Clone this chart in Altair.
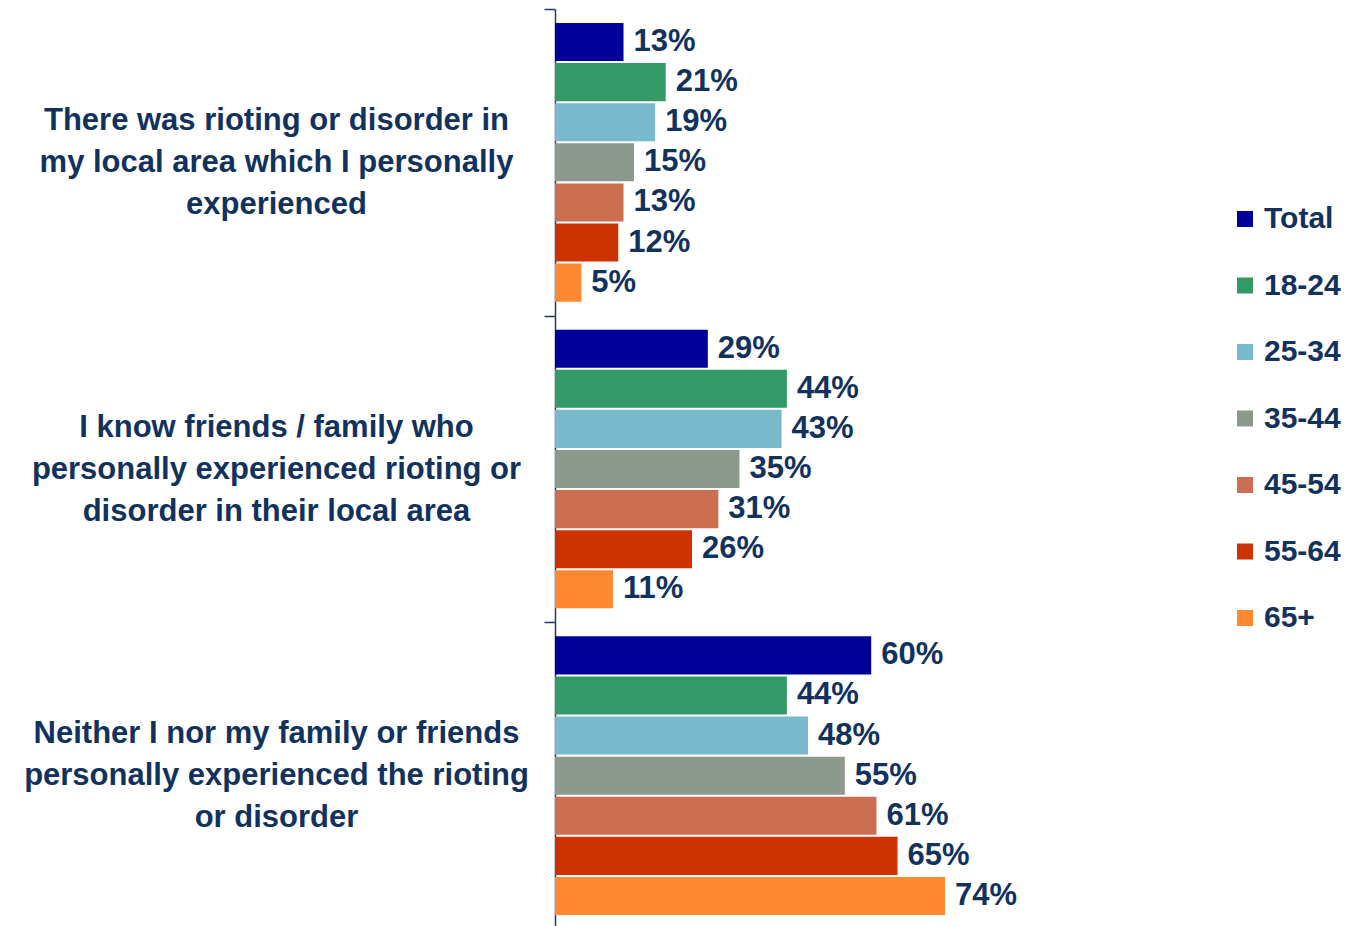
import altair as alt
import pandas as pd

category_lines = [
    ["There was rioting or disorder in", "my local area which I personally", "experienced"],
    ["I know friends / family who", "personally experienced rioting or", "disorder in their local area"],
    ["Neither I nor my family or friends", "personally experienced the rioting", "or disorder"],
]
categories = ["|".join(lines) for lines in category_lines]
series = ["Total", "18-24", "25-34", "35-44", "45-54", "55-64", "65+"]
colors = ["#000099", "#339966", "#7AB8CC", "#8C9A8E", "#CC6E50", "#CC3300", "#FF8833"]

total = [13, 29, 60]
age_18_24 = [21, 44, 44]
age_25_34 = [19, 43, 48]
age_35_44 = [15, 35, 55]
age_45_54 = [13, 31, 61]
age_55_64 = [12, 26, 65]
age_65_plus = [5, 11, 74]

series_values = [total, age_18_24, age_25_34, age_35_44, age_45_54, age_55_64, age_65_plus]

rows = []
for s, vals in zip(series, series_values):
    for c, v in zip(categories, vals):
        rows.append({"category": c, "series": s, "value": v, "label": f"{v}%"})
df = pd.DataFrame(rows)

TEXT = "#12325E"
AXIS = "#1F3B63"
FONT = "Liberation Sans"

base = alt.Chart(df).encode(
    y=alt.Y(
        "category:N",
        sort=categories,
        scale=alt.Scale(range=[0, 920], paddingInner=0, paddingOuter=0),
        axis=alt.Axis(
            title=None,
            labelExpr="split(datum.label, '|')",
            tickBand="extent",
            tickSize=11,
            tickWidth=1.5,
            tickColor=AXIS,
            domainColor=AXIS,
            domainWidth=1.5,
            labelFont=FONT,
            labelFontWeight="bold",
            labelFontSize=31,
            labelColor=TEXT,
            labelAlign="center",
            labelBaseline="middle",
            labelPadding=268,
            labelLineHeight=42,
            labelOffset=-42,
            labelLimit=0,
            grid=False,
        ),
    ),
    yOffset=alt.YOffset("series:N", sort=series, scale=alt.Scale(paddingInner=0.05, paddingOuter=0.35)),
)

bars = base.mark_bar().encode(
    x=alt.X("value:Q", scale=alt.Scale(domain=[0, 100]), axis=None),
    color=alt.Color(
        "series:N",
        sort=series,
        scale=alt.Scale(domain=series, range=colors),
        legend=alt.Legend(
            title=None,
            orient="none",
            legendX=675,
            legendY=195,
            symbolType="square",
            symbolSize=256,
            symbolStrokeWidth=0,
            labelFont=FONT,
            labelFontSize=30,
            labelFontWeight="bold",
            labelColor=TEXT,
            labelLimit=0,
            rowPadding=36.5,
            labelOffset=4,
        ),
    ),
)

text = base.mark_text(
    align="left", baseline="middle", dx=10, font=FONT, fontWeight="bold", fontSize=31, color=TEXT
).encode(
    x=alt.X("value:Q", scale=alt.Scale(domain=[0, 100]), axis=None),
    text=alt.Text("label:N"),
)

chart = (
    alt.layer(bars, text)
    .properties(
        width=527,
        height=910,
        autosize=alt.AutoSizeParams(type="none"),
        padding={"left": 547, "top": 1, "right": 260, "bottom": 8},
        background="white",
    )
    .configure_view(stroke=None)
)

chart.save("out.html", embed_options={"renderer": "svg", "actions": False})
